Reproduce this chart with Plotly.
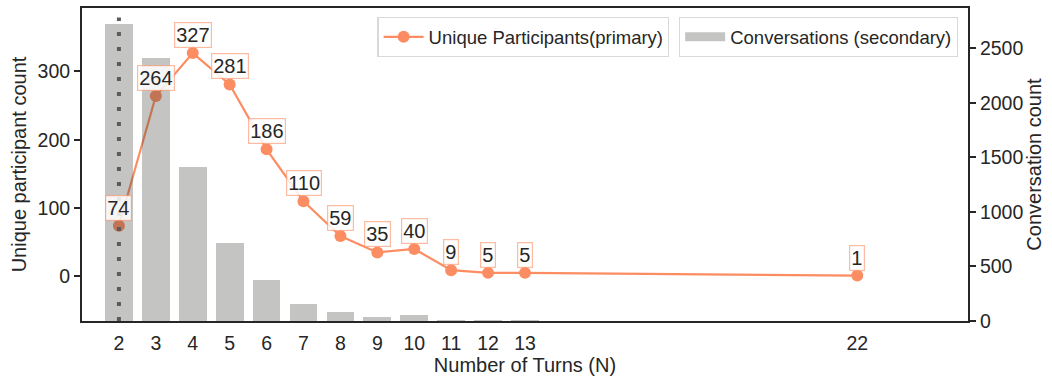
import plotly.graph_objects as go

# datos
turns = [2, 3, 4, 5, 6, 7, 8, 9, 10, 11, 12, 13, 22]
participants = [74, 264, 327, 281, 186, 110, 59, 35, 40, 9, 5, 5, 1]
conversations = [2722, 2415, 1410, 711, 376, 155, 82, 36, 52, 12, 7, 6, 1]
x_ticks = [2, 3, 4, 5, 6, 7, 8, 9, 10, 11, 12, 13, 22]

FONT = "Liberation Sans, Arial, sans-serif"
ORANGE = "#fc8d62"
DARK = "#262626"
BAR = "rgba(60,58,55,0.3)"

fig = go.Figure()

fig.add_trace(go.Scatter(
    x=turns, y=participants,
    mode="lines+markers",
    name="Unique Participants(primary)",
    line=dict(color=ORANGE, width=2.2),
    marker=dict(color=ORANGE, size=12),
    yaxis="y",
    legend="legend",
    showlegend=True,
))

fig.add_trace(go.Bar(
    x=turns, y=conversations,
    name="Conversations (secondary)",
    marker=dict(color=BAR, line=dict(width=0)),
    width=0.75,
    yaxis="y2",
    showlegend=False,
))

# entrada de leyenda para las barras (rectangulo ancho)
fig.add_trace(go.Scatter(
    x=[None], y=[None],
    mode="lines",
    name="Conversations (secondary)",
    line=dict(color=BAR, width=9),
    yaxis="y2",
    legend="legend2",
    showlegend=True,
))

# etiquetas con recuadro sobre cada punto
for xv, yv in zip(turns, participants):
    fig.add_annotation(
        x=xv, y=yv, xref="x", yref="y",
        text=str(yv), showarrow=False,
        yshift=18,
        font=dict(family=FONT, size=20, color=DARK),
        bgcolor="rgba(255,255,255,0.85)",
        bordercolor="rgba(252,141,98,0.6)",
        borderwidth=1.2, borderpad=1,
    )

# linea vertical punteada en N=2
fig.add_shape(
    type="line", xref="x", yref="paper",
    x0=2, x1=2, y0=0, y1=0.97,
    line=dict(color="#5f5a55", width=4, dash="4px,11px"),
    layer="above",
)

fig.update_layout(
    width=1052, height=381,
    margin=dict(l=82, r=84, t=6, b=60),
    paper_bgcolor="white", plot_bgcolor="white",
    font=dict(family=FONT, size=19, color=DARK),
    bargap=0,
    xaxis=dict(
        range=[1, 25],
        tickmode="array", tickvals=x_ticks,
        ticks="outside", ticklen=4, tickcolor="rgba(0,0,0,0)",
        showgrid=False, zeroline=False,
        showline=True, linecolor=DARK, linewidth=2, mirror=True,
        tickfont=dict(size=19.5),
        title=dict(text="Number of Turns (N)", font=dict(size=20), standoff=4),
    ),
    yaxis=dict(
        range=[-65.5, 393],
        tickvals=[0, 100, 200, 300],
        ticks="outside", ticklen=6, tickwidth=1.5, tickcolor=DARK,
        showgrid=False, zeroline=False,
        showline=True, linecolor=DARK, linewidth=2, mirror=True,
        tickfont=dict(size=19.5),
        title=dict(text="Unique participant count", font=dict(size=20), standoff=6),
    ),
    yaxis2=dict(
        range=[0, 2871],
        overlaying="y", side="right",
        tickvals=[0, 500, 1000, 1500, 2000, 2500],
        ticks="outside", ticklen=6, tickwidth=1.5, tickcolor=DARK,
        showgrid=False, zeroline=False,
        showline=True, linecolor=DARK, linewidth=2,
        tickfont=dict(size=19.5),
        title=dict(text="Conversation count", font=dict(size=20), standoff=3),
    ),
    legend=dict(
        x=0.663, y=0.971, xanchor="right", yanchor="top",
        bgcolor="rgba(255,255,255,0.9)", bordercolor="#d9d9d9", borderwidth=1.2,
        font=dict(size=18.5), itemwidth=40,
    ),
    legend2=dict(
        x=0.9887, y=0.971, xanchor="right", yanchor="top",
        bgcolor="rgba(255,255,255,0.9)", bordercolor="#d9d9d9", borderwidth=1.2,
        font=dict(size=18.5), itemwidth=40,
    ),
)

# quitar el margen por defecto del body para que la figura quede en (0,0)
fig.write_html(
    "out.html",
    config={"displayModeBar": False},
    post_script="document.body.style.margin='0px';",
)
